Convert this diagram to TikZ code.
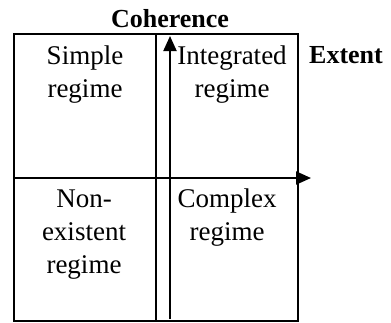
\documentclass[tikz,border=0pt]{standalone}
\usepackage{fontspec}
\setmainfont{Liberation Serif}
\usetikzlibrary{arrows.meta}
\tikzset{
  frame/.style={draw=black, line width=0.8pt},
  axis/.style={draw=black, line width=1pt, -{Triangle[length=7.5pt,width=6.5pt]}},
  cell/.style={align=center, font=\fontsize{13.5}{16.5}\selectfont, anchor=base},
  title/.style={font=\fontsize{13}{15}\selectfont\bfseries, anchor=base}
}
\begin{document}
\begin{tikzpicture}[x=0.5pt, y=-0.5pt]
  \useasboundingbox (0,0) rectangle (391,322);
  % Raster der vier Felder
  \draw[frame] (14,34) rectangle (298,321);
  \draw[frame] (156,34) -- (156,321);
  \draw[frame] (14,178) -- (298,178);
  % Achsen
  \coordinate (vfrom) at (170,319);
  \coordinate (vto) at (170,36);
  \coordinate (hfrom) at (27,178);
  \coordinate (hto) at (311,178);
  \draw[axis] (vfrom) -- (vto);
  \draw[axis] (hfrom) -- (hto);
  % Beschriftung (Grundlinie der letzten Zeile)
  \node[title] (coh) at (170,27) {Coherence};
  \node[title] (ext) at (346,63) {Extent};
  \node[cell] (simple) at (85,97) {Simple\\regime};
  \node[cell] (integ) at (232,97) {Integrated\\regime};
  \node[cell] (nonex) at (84,273) {Non-\\existent\\regime};
  \node[cell] (compl) at (227,240) {Complex\\regime};
\end{tikzpicture}
\end{document}
